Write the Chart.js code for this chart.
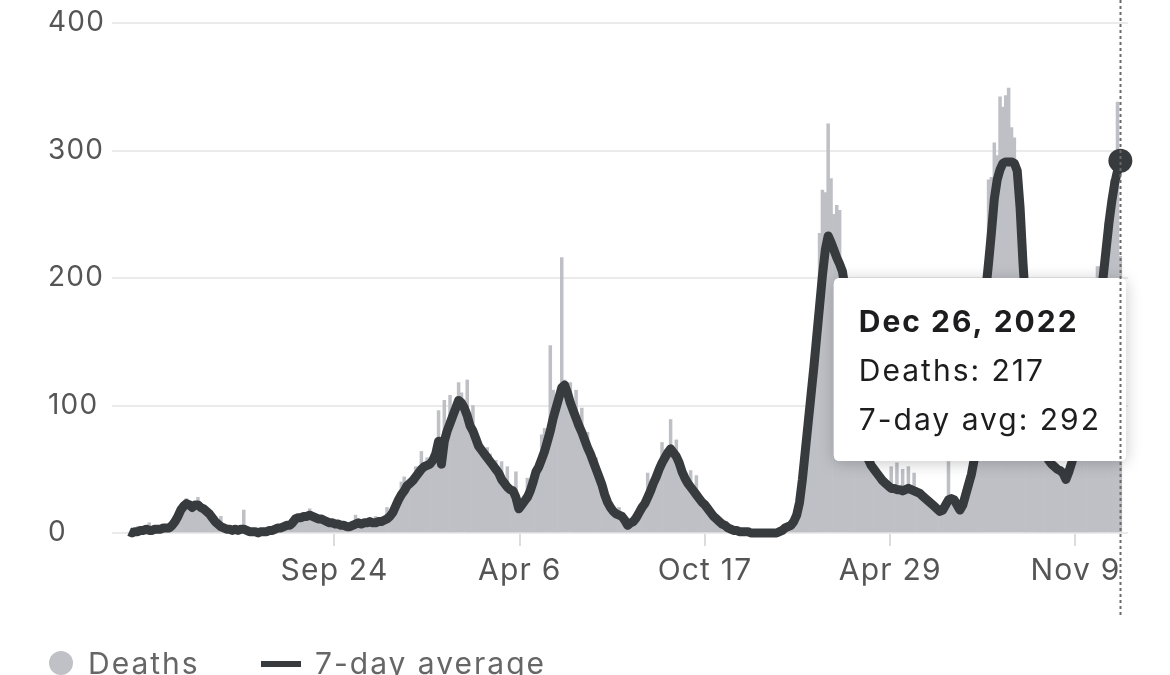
<!DOCTYPE html>
<html>
<head>
<meta charset="utf-8">
<script src="https://cdn.jsdelivr.net/npm/chart.js@4.4.1/dist/chart.umd.min.js"></script>
<style>
  html, body { margin: 0; padding: 0; background: #fff; overflow: hidden; width: 1170px; height: 675px; }
  #wrap { position: relative; width: 1170px; height: 675px; overflow: hidden; }
  #c { position: absolute; left: 0; top: 0; }
  .lg { position: absolute; font-family: Inter, 'Noto Sans', sans-serif; font-size: 30px; line-height: 30px; letter-spacing: 2px; color: #666; white-space: nowrap; }
  .dot { position: absolute; width: 24px; height: 24px; border-radius: 50%; background: #bfc1c6; }
  .bar { position: absolute; width: 40px; height: 6px; background: #373b3e; }
</style>
</head>
<body>
<div id="wrap">
  <canvas id="c" width="1170" height="675"></canvas>
  <div id="legend"></div>
</div>
<script>
// ---- data (one value every 3 days, starting Feb 22, 2020) ----
const startDate = [2020, 1, 22];
const stepDays = 3;

const deaths = [
  0,1,2,5,1,3,2,8,3,2,
  4,2,5,3,6,7,10,15,19,24,
  27,20,22,24,28,21,18,19,14,13,
  10,8,13,3,4,2,3,2,3,2,
  18,2,1,2,0,1,1,0,2,2,
  3,2,5,4,6,7,5,9,12,14,
  13,15,12,19,14,13,12,10,11,9,
  9,7,8,6,7,5,6,4,6,14,
  9,8,7,10,8,9,13,8,10,11,
  20,14,18,23,28,40,44,38,42,45,
  52,48,64,55,59,56,60,66,96,58,
  104,84,108,95,102,118,110,102,120,90,
  100,78,72,66,64,67,62,56,57,50,
  56,41,52,36,35,48,22,24,30,43,
  38,47,52,58,77,82,76,147,112,102,
  110,216,120,115,118,100,112,88,98,76,
  79,65,58,59,46,40,33,26,22,19,
  16,20,14,12,7,9,10,14,18,22,
  25,47,35,42,46,52,71,62,65,89,
  66,73,57,50,45,41,49,35,45,28,
  26,23,20,17,14,12,10,8,6,5,
  3,2,2,1,1,1,1,0,0,0,
  0,0,0,0,0,0,0,1,2,4,
  6,7,10,16,28,48,72,95,118,140,
  170,235,269,267,321,278,250,257,253,210,
  185,160,138,115,98,84,72,63,57,52,
  50,46,44,40,38,37,52,36,55,34,
  50,35,52,35,47,33,31,30,27,26,
  24,22,20,18,19,23,56,28,27,23,
  19,24,32,40,48,60,76,120,160,213,
  277,279,306,296,342,334,343,349,318,310,
  288,250,205,175,148,124,104,88,76,66,
  60,56,53,51,49,48,46,42,47,56,
  66,76,86,98,110,124,140,156,209,209,
  215,243,250,277,280,338,217
];

const avg7 = [
  1,0,1,1,2,2,3,2,2,3,
  3,3,4,4,4,6,9,13,18,21,
  23,22,20,22,22,20,19,17,15,12,
  9,7,5,4,3,3,2,3,2,3,
  3,2,1,1,1,0,1,1,1,2,
  2,3,4,4,5,6,6,8,11,12,
  12,13,13,14,13,12,11,11,10,9,
  8,8,7,7,6,6,5,5,6,7,
  8,7,8,8,9,8,8,9,9,10,
  11,13,16,21,26,30,33,37,39,41,
  44,47,50,52,53,54,57,62,72,54,
  72,80,86,92,98,104,102,98,92,84,
  80,74,68,65,62,59,56,53,50,47,
  42,39,36,34,33,28,19,22,25,28,
  33,40,48,52,58,64,72,80,90,98,
  106,114,116,110,102,96,90,84,79,73,
  67,62,56,50,44,38,30,24,20,17,
  15,14,13,10,6,8,9,12,16,20,
  23,28,33,39,44,50,55,59,63,66,
  63,60,55,48,43,39,36,33,30,27,
  24,22,19,16,13,11,9,7,6,4,
  3,2,2,1,1,1,1,0,0,0,
  0,0,0,0,0,0,0,1,2,4,
  5,6,9,14,24,42,64,86,108,130,
  154,178,202,222,233,228,222,216,211,205,
  190,165,140,118,100,86,74,65,58,53,
  50,47,44,41,39,37,35,35,34,34,
  33,34,35,34,33,32,31,29,27,25,
  23,21,19,17,18,22,26,27,26,22,
  18,22,30,38,46,58,72,110,150,190,
  212,236,262,277,285,290,291,291,291,290,
  284,255,212,178,150,126,106,90,78,68,
  62,57,54,52,50,49,47,42,48,55,
  64,74,84,96,108,122,136,152,168,186,
  201,222,243,260,274,284,292
];

const tickDays = [215, 409, 603, 797, 991];
const tickLabels = ['Sep 24', 'Apr 6', 'Oct 17', 'Apr 29', 'Nov 9'];
const yTicks = [0, 100, 200, 300, 400];
const seriesNames = ['Deaths', '7-day average'];
const tooltipNames = ['Deaths', '7-day avg'];
const monthNames = ['Jan','Feb','Mar','Apr','May','Jun','Jul','Aug','Sep','Oct','Nov','Dec'];

// ---- styles ----
const FONT = "Inter, 'Noto Sans', sans-serif";
const BAR_COLOR = '#bec0c6';
const LINE_COLOR = '#373b3e';
const TICK_COLOR = '#555555';

const days = deaths.map((_, i) => i * stepDays);
const last = deaths.length - 1;

function formatDay(d) {
  const t = new Date(Date.UTC(startDate[0], startDate[1], startDate[2]) + d * 86400000);
  return monthNames[t.getUTCMonth()] + ' ' + t.getUTCDate() + ', ' + t.getUTCFullYear();
}

Chart.Tooltip.positioners.fixedBox = function () {
  return { x: 1126, y: 369.5 };
};

// letter spacing for canvas text (axis labels a little, tooltip a bit more)
const spacing = {
  id: 'spacing',
  beforeUpdate(chart) { chart.ctx.letterSpacing = '1.2px'; },
  beforeDraw(chart) { chart.ctx.letterSpacing = '1.2px'; }
};

const tooltipShadow = {
  id: 'tooltipShadow',
  beforeTooltipDraw(chart, args) {
    const ctx = chart.ctx;
    ctx.letterSpacing = '2px';
    const tt = args.tooltip;
    if (!tt || !tt.opacity || !tt.width) return;
    ctx.save();
    ctx.shadowColor = 'rgba(0,0,0,0.22)';
    ctx.shadowBlur = 16;
    ctx.shadowOffsetY = 2;
    ctx.fillStyle = '#ffffff';
    ctx.beginPath();
    ctx.roundRect(tt.x, tt.y, tt.width, tt.height, 6);
    ctx.fill();
    ctx.restore();
  }
};

const hoverLine = {
  id: 'hoverLine',
  afterDraw(chart) {
    const x = Math.round(chart.scales.x.getPixelForValue(days[last])) + 0.5;
    const ctx = chart.ctx;
    ctx.save();
    ctx.strokeStyle = '#6a6a6a';
    ctx.lineWidth = 2;
    ctx.setLineDash([3, 3]);
    ctx.beginPath();
    ctx.moveTo(x, 0);
    ctx.lineTo(x, 618);
    ctx.stroke();
    ctx.restore();
  }
};

const chart = new Chart(document.getElementById('c'), {
  type: 'bar',
  data: {
    datasets: [
      {
        type: 'bar',
        label: seriesNames[0],
        data: deaths.map((v, i) => ({ x: days[i], y: v })),
        backgroundColor: BAR_COLOR,
        hoverBackgroundColor: BAR_COLOR,
        borderWidth: 0,
        barPercentage: 1,
        categoryPercentage: 1,
        order: 2
      },
      {
        type: 'line',
        label: seriesNames[1],
        data: avg7.map((v, i) => ({ x: days[i], y: v })),
        borderColor: LINE_COLOR,
        borderWidth: 9,
        borderJoinStyle: 'round',
        tension: 0,
        clip: false,
        pointRadius: (c) => (c.dataIndex === last ? 12 : 0),
        pointHoverRadius: (c) => (c.dataIndex === last ? 12 : 0),
        pointBackgroundColor: LINE_COLOR,
        pointHoverBackgroundColor: LINE_COLOR,
        pointBorderWidth: 0,
        pointHoverBorderWidth: 0,
        order: 1
      }
    ]
  },
  options: {
    responsive: false,
    animation: false,
    devicePixelRatio: 1,
    events: [],
    layout: { padding: { left: 48, right: 42, top: 23, bottom: 0 } },
    scales: {
      x: {
        type: 'linear',
        min: -18,
        max: 1046,
        offset: false,
        afterBuildTicks: (s) => { s.ticks = tickDays.map((v) => ({ value: v })); },
        afterFit: (s) => { s.height = 675 - 533; },
        ticks: {
          autoSkip: false,
          maxRotation: 0,
          padding: 7,
          color: TICK_COLOR,
          font: { family: FONT, size: 30 },
          callback: (v) => tickLabels[tickDays.indexOf(v)]
        },
        grid: { offset: false, drawOnChartArea: false, drawTicks: true, tickLength: 13, color: '#dcdcdc', lineWidth: 2 },
        border: { display: false }
      },
      y: {
        min: 0,
        max: 400,
        afterBuildTicks: (s) => { s.ticks = yTicks.map((v) => ({ value: v })); },
        afterFit: (s) => { s.width = 64; },
        ticks: {
          crossAlign: 'far',
          padding: 0,
          color: TICK_COLOR,
          font: { family: FONT, size: 28 }
        },
        grid: { color: '#ebebeb', lineWidth: 2, drawTicks: false },
        border: { display: false }
      }
    },
    plugins: {
      legend: { display: false },
      tooltip: {
        enabled: true,
        position: 'fixedBox',
        xAlign: 'right',
        yAlign: 'center',
        caretSize: 0,
        caretPadding: 0,
        backgroundColor: '#ffffff',
        cornerRadius: 6,
        padding: { top: 27, bottom: 22, left: 25, right: 25 },
        displayColors: false,
        titleFont: { family: FONT, size: 30, weight: 'bold' },
        titleColor: '#1d1d1f',
        bodyFont: { family: FONT, size: 30 },
        bodyColor: '#1d1d1f',
        titleMarginBottom: 13,
        bodySpacing: 13,
        callbacks: {
          title: (items) => formatDay(items[0].parsed.x),
          label: (item) => tooltipNames[item.datasetIndex] + ': ' + item.parsed.y
        }
      }
    }
  },
  plugins: [spacing, tooltipShadow, hoverLine]
});

chart.ctx.letterSpacing = '2px';
chart.tooltip.setActiveElements(
  [{ datasetIndex: 0, index: last }, { datasetIndex: 1, index: last }],
  { x: 1120, y: 160 }
);
chart.draw();

// ---- legend (HTML, from series names) ----
const lg = document.getElementById('legend');
lg.innerHTML =
  '<div class="dot" style="left:49px;top:651px"></div>' +
  '<div class="lg" style="left:88px;top:648px">' + seriesNames[0] + '</div>' +
  '<div class="bar" style="left:261px;top:661px"></div>' +
  '<div class="lg" style="left:315px;top:648px">' + seriesNames[1] + '</div>';
</script>
</body>
</html>
